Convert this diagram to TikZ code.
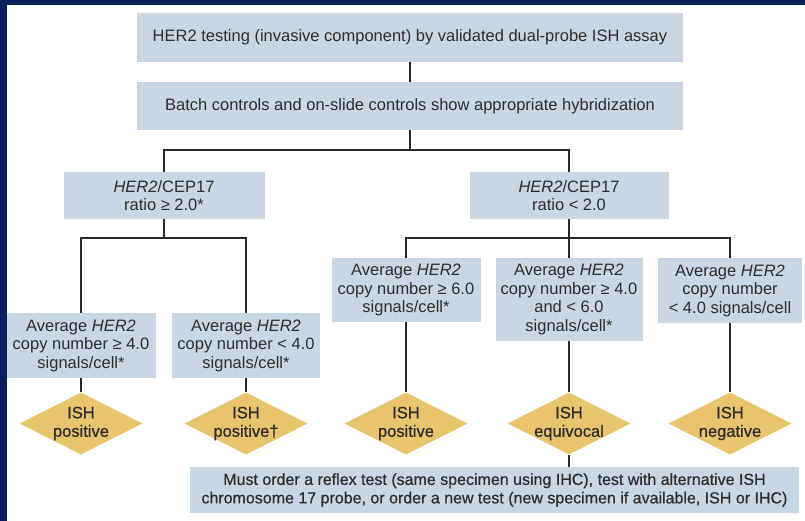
\documentclass[tikz,border=0pt]{standalone}
\usepackage{fontspec}
\setmainfont{Liberation Sans}
\newfontfamily\semibold[FakeBold=0.7]{Liberation Sans}
\usetikzlibrary{shapes.geometric}

\definecolor{navy}{HTML}{0A1E5A}
\definecolor{boxfill}{HTML}{C9D7E5}
\definecolor{gold}{HTML}{E8C46E}
\definecolor{ink}{HTML}{2E2E2E}
\definecolor{wire}{HTML}{2A2A2A}

\tikzset{
  stepbox/.style={fill=boxfill, draw=none, align=center, inner sep=0pt,
    text=ink, font=\fontsize{16.5pt}{18.5pt}\selectfont},
  result/.style={diamond, fill=gold, draw=none, inner sep=0pt, aspect=2,
    minimum width=123pt, minimum height=62pt,
    label={[resulttext]center:#1}},
  resulttext/.style={align=center, inner sep=0pt, text=ink,
    font=\semibold\fontsize{16.5pt}{18.5pt}\selectfont},
  wire/.style={draw=wire, line width=2pt},
}

\begin{document}
\begin{tikzpicture}[x=1pt, y=-1pt]
  % frame
  \fill[navy] (0,0) rectangle (805,521);
  \fill[white] (7,5) rectangle (805,521);
  \useasboundingbox (0,0) rectangle (805,521);

  % top of the flow
  \node[stepbox, minimum width=546pt, minimum height=49pt] (top) at (410,37.5)
    {HER2 testing (invasive component) by validated dual-probe ISH assay};
  \node[stepbox, minimum width=546pt, minimum height=48pt] (batch) at (410,106)
    {Batch controls and on-slide controls show appropriate hybridization};

  % ratio split
  \node[stepbox, minimum width=201pt, minimum height=47pt] (ratioL) at (164,195.5)
    {\textit{HER2}/CEP17\\ratio ≥ 2.0*};
  \node[stepbox, minimum width=199pt, minimum height=47pt] (ratioR) at (569,195.5)
    {\textit{HER2}/CEP17\\ratio < 2.0};

  % copy number boxes, ratio >= 2.0
  \node[stepbox, minimum width=149pt, minimum height=65pt] (L1) at (81,345.5)
    {Average \textit{HER2}\\copy number ≥ 4.0\\signals/cell*};
  \node[stepbox, minimum width=148pt, minimum height=65pt] (L2) at (246,345.5)
    {Average \textit{HER2}\\copy number < 4.0\\signals/cell*};

  % copy number boxes, ratio < 2.0
  \node[stepbox, minimum width=149pt, minimum height=64pt] (R1) at (406,290)
    {Average \textit{HER2}\\copy number ≥ 6.0\\signals/cell*};
  \node[stepbox, minimum width=147pt, minimum height=83pt] (R2) at (569,299.5)
    {Average \textit{HER2}\\copy number ≥ 4.0\\and < 6.0\\signals/cell*};
  \node[stepbox, minimum width=144pt, minimum height=65pt] (R3) at (730,290.5)
    {Average \textit{HER2}\\copy number\\< 4.0 signals/cell};

  % results
  \node[result={ISH\\positive}]  (D1) at (81,423.5) {};
  \node[result={ISH\\positive†}] (D2) at (246,423.5) {};
  \node[result={ISH\\positive}]  (D3) at (406,423.5) {};
  \node[result={ISH\\equivocal}] (D4) at (569,423.5) {};
  \node[result={ISH\\negative}]  (D5) at (730,423.5) {};

  % follow-up for equivocal
  \node[stepbox, minimum width=609pt, minimum height=46pt,
        font=\semibold\fontsize{16pt}{18.5pt}\selectfont] (reflex) at (494.5,490)
    {Must order a reflex test (same specimen using IHC), test with alternative ISH\\
     chromosome 17 probe, or order a new test (new specimen if available, ISH or IHC)};

  % junction points
  \coordinate (j0) at (410,150);
  \coordinate (jL) at (164,238.5);
  \coordinate (jR) at (569,238.5);

  % connectors
  \draw[wire] (top) -- (batch);
  \draw[wire] (batch) -- (j0);
  \draw[wire] (ratioL.north) |- (j0) -| (ratioR.north);
  \draw[wire] (ratioL) -- (jL);
  \draw[wire] (L1.north) |- (jL) -| (L2.north);
  \draw[wire] (ratioR) -- (jR);
  \draw[wire] (R1.north) |- (jR) -| (R3.north);
  \draw[wire] (jR) -- (R2.north);
  \draw[wire] (L1) -- (D1);
  \draw[wire] (L2) -- (D2);
  \draw[wire] (R1) -- (D3);
  \draw[wire] (R2) -- (D4);
  \draw[wire] (R3) -- (D5);
  \draw[wire] (D4) -- (D4 |- reflex.north);
\end{tikzpicture}
\end{document}
